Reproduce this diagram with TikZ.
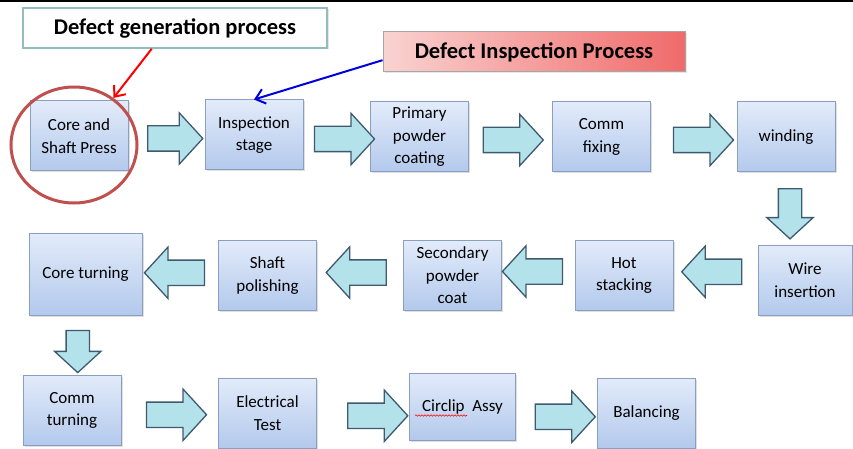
\documentclass[tikz,border=0pt]{standalone}
\usepackage{fontspec}
\setmainfont{Carlito}
\usepackage{xcolor}
\usetikzlibrary{positioning,calc,arrows.meta,shapes.arrows,shapes.geometric,shadows,decorations.pathmorphing}
\definecolor{boxtop}{HTML}{E2EBFA}
\definecolor{boxbot}{HTML}{B3C9EC}
\definecolor{boxline}{HTML}{8A9EC0}
\definecolor{arrfill}{HTML}{B4E2EA}
\definecolor{arrline}{HTML}{3F5A70}
\definecolor{ringred}{HTML}{C0504D}
\definecolor{genline}{HTML}{93BCC0}
\definecolor{pinkL}{HTML}{F9D3D1}
\definecolor{pinkR}{HTML}{F06A6A}

\begin{document}
\begin{tikzpicture}[x=1pt,y=-1pt,
  proc/.style={draw=boxline,line width=1pt,top color=boxtop,bottom color=boxbot,minimum width=98pt,minimum height=70pt,align=center,inner sep=2pt,font=\fontsize{17}{22.5}\selectfont,drop shadow={shadow xshift=1.5pt,shadow yshift=-1.5pt,opacity=.25}},
  fat/.style={single arrow,draw=arrline,line width=1.3pt,fill=arrfill,minimum height=60pt,minimum width=50pt,single arrow head extend=13pt,single arrow tip angle=95,inner sep=12pt},
  hdr/.style={minimum height=40pt,font=\fontsize{22.5}{27}\selectfont\bfseries,drop shadow={shadow xshift=1.5pt,shadow yshift=-1.5pt,opacity=.2}}]
  \useasboundingbox(0,0)rectangle(853,449);
  \draw[line width=2pt](0,1)--(853,1);%top rule
  % process boxes
  \node[proc](core)at(79,136){Core and\\Shaft Press};
  \node[proc](insp)at(254,135){Inspection\\stage};
  \node[proc](prim)at(419.5,137){Primary\\powder\\coating};
  \node[proc](commfix)at(601.5,137){Comm\\fixing};
  \node[proc](wind)at(786,137){winding};
  \node[proc,minimum width=113pt,minimum height=82pt](coreturn)at(85.5,274){Core turning};
  \node[proc](shaft)at(267.5,275.5){Shaft\\polishing};
  \node[proc](second)at(452.5,275.5){Secondary\\powder\\coat};
  \node[proc](hot)at(624,275.5){Hot\\stacking};
  \node[proc,minimum width=94pt](wire)at(805,280){Wire\\insertion};
  \node[proc](commturn)at(72,410.5){Comm\\turning};
  \node[proc](elec)at(267.5,413){Electrical\\Test};
  \node[proc,minimum width=106pt,minimum height=67pt](circ)at(462.5,406.5){Circlip\ \ Assy};
  \node[proc](bal)at(646.5,413){Balancing};
  \draw[red,line width=.6pt,decorate,decoration={snake,amplitude=.7pt,segment length=3pt}]($(circ.west)+(6,9)$)--++(52,0);%spell mark
  % block arrows
  \node[fat,minimum height=55pt](a1)at($(core.east)!.5!(insp.west)+(3,3)$){};
  \node[fat](a2)at($(insp.east)!.5!(prim.west)+(2,3)$){};
  \node[fat](a3)at($(prim.east)!.5!(commfix.west)+(-3,3)$){};
  \node[fat](a4)at($(commfix.east)!.5!(wind.west)+(4,3)$){};
  \node[fat,shape border rotate=270,minimum height=50pt,minimum width=45pt,single arrow head extend=11.5pt,inner sep=11pt](a5)at($(wind.south)!.5!(wind.south|-wire.north)+(4,0)$){};
  \node[fat,shape border rotate=180](a6)at($(wire.west)!.5!(hot.east)+(2,-6)$){};
  \node[fat,shape border rotate=180](a7)at($(hot.west)!.5!(second.east)+(0,-4)$){};
  \node[fat,shape border rotate=180](a8)at($(second.west)!.5!(shaft.east)+(2,-3)$){};
  \node[fat,shape border rotate=180](a9)at($(shaft.west)!.5!(coreturn.east)+(0,-2)$){};
  \node[fat,shape border rotate=270,minimum height=42pt,minimum width=45pt,single arrow head extend=11.5pt,inner sep=11pt](a10)at($(coreturn.south)!.5!(commturn.north)+(-1,1)$){};
  \node[fat](a11)at($(commturn.east)!.5!(elec.west)+(1,3)$){};
  \node[fat](a12)at($(elec.east)!.5!(circ.west)+(9,6)$){};
  \node[fat](a13)at($(circ.east)!.5!(bal.west)+(3,7)$){};
  % headers
  \node[hdr,draw=genline,line width=1.5pt,fill=white,minimum width=304pt](gen)at(175,28){Defect generation process};
  \node[hdr,draw=gray!70,line width=1pt,left color=pinkL,right color=pinkR,minimum width=302pt](insphdr)at(534,52){Defect Inspection Process};
  \node[draw=ringred,line width=3pt,ellipse,minimum width=126pt,minimum height=116pt](ring)at(74,145){};
  \draw[red,line width=2pt,-{Straight Barb[length=9pt,width=15pt]}]($(gen.south west)!.424!(gen.south east)$)--(ring.50);
  \draw[blue!85!black,line width=2pt,-{Straight Barb[length=9pt,width=15pt]}]($(insphdr.south west)!.3!(insphdr.north west)$)--(insp.north);
\end{tikzpicture}
\end{document}
